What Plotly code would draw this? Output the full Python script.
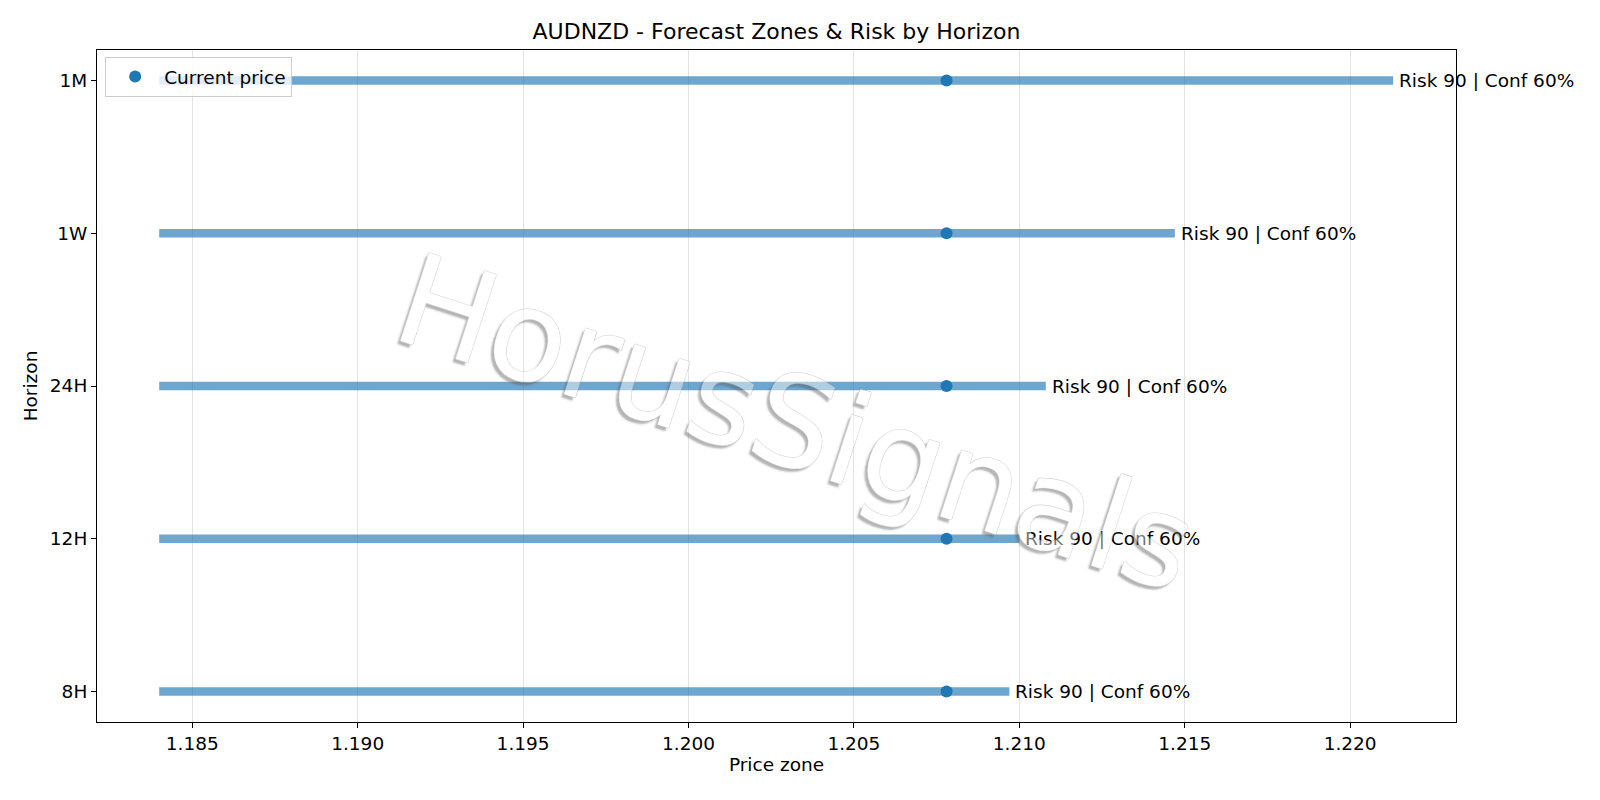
import plotly.graph_objects as go

# ---- data ----
horizons = ["8H", "12H", "24H", "1W", "1M"]
zone_low = [1.1840, 1.1840, 1.1840, 1.1840, 1.1840]
zone_high = [1.2097, 1.2100, 1.2108, 1.2147, 1.2213]
current_price = [1.2078, 1.2078, 1.2078, 1.2078, 1.2078]
risk = [90, 90, 90, 90, 90]
conf = [60, 60, 60, 60, 60]
x_ticks = [1.185, 1.190, 1.195, 1.200, 1.205, 1.210, 1.215, 1.220]
x_range = [1.18212, 1.22320]
title_text = "AUDNZD - Forecast Zones & Risk by Horizon"
watermark = "HorusSignals"

FONT = "DejaVu Sans, Liberation Sans, sans-serif"
FS = 18.5
BAR_COLOR = "rgba(31,119,180,0.65)"
DOT_COLOR = "#1f77b4"

fig = go.Figure()

# zone bars
for h, lo, hi in zip(horizons, zone_low, zone_high):
    fig.add_trace(go.Scatter(
        x=[lo, hi], y=[h, h], mode="lines",
        line=dict(color=BAR_COLOR, width=8.5),
        showlegend=False, hoverinfo="skip"))

# current price
fig.add_trace(go.Scatter(
    x=current_price, y=horizons, mode="markers",
    marker=dict(color=DOT_COLOR, size=12),
    name="Current price", showlegend=True))

# labels
for h, hi, r, c in zip(horizons, zone_high, risk, conf):
    fig.add_annotation(
        x=hi, y=h, xref="x", yref="y", text=f"Risk {r} | Conf {c}%",
        showarrow=False, xanchor="left", yanchor="middle", xshift=4,
        font=dict(family=FONT, size=FS, color="black"))

# watermark
g = "rgba(160,160,160,1)"
shadow = (f"0.6px 0 0 {g}, -0.6px 0 0 {g}, 0 0.6px 0 {g}, 0 -0.6px 0 {g}, "
          f"-2px 4px 2px rgba(90,90,90,1)")
fig.add_annotation(
    x=0.514, y=0.445, xref="paper", yref="paper", text=watermark,
    showarrow=False, xanchor="center", yanchor="middle", textangle=18,
    opacity=0.45,
    font=dict(family=FONT, size=127, color="white", shadow=shadow))

fig.update_layout(
    width=1600, height=800,
    margin=dict(l=96.5, r=144.3, t=50, b=77.7),
    paper_bgcolor="white", plot_bgcolor="white",
    font=dict(family=FONT, size=FS, color="black"),
    title=dict(text=title_text, x=0.5, xref="paper", xanchor="center",
               y=1 - 31.6 / 800, yref="container", yanchor="middle",
               font=dict(family=FONT, size=22, color="black")),
    legend=dict(x=0.006, y=0.9895, xanchor="left", yanchor="top",
                itemwidth=48,
                bgcolor="rgba(255,255,255,0.8)", bordercolor="#cccccc", borderwidth=1,
                font=dict(family=FONT, size=FS, color="black")),
    showlegend=True,
)

fig.update_xaxes(
    range=x_range, tickvals=x_ticks, ticktext=[f"{v:.3f}" for v in x_ticks],
    showgrid=True, gridcolor="#e3e3e3", gridwidth=1, zeroline=False,
    showline=True, linecolor="black", linewidth=1, mirror=True,
    ticks="outside", ticklen=5, tickcolor="black", tickwidth=1,
    tickfont=dict(family=FONT, size=FS, color="black"),
    title=dict(text="Price zone", standoff=4, font=dict(family=FONT, size=FS, color="black")))

fig.update_yaxes(
    type="category", categoryorder="array", categoryarray=horizons,
    range=[-0.2, len(horizons) - 1 + 0.2],
    showgrid=False, zeroline=False,
    showline=True, linecolor="black", linewidth=1, mirror=True,
    ticks="outside", ticklen=5, tickcolor="black", tickwidth=1,
    tickfont=dict(family=FONT, size=FS, color="black"),
    title=dict(text="Horizon", standoff=7, font=dict(family=FONT, size=FS, color="black")))

fig.write_html("out.html")
